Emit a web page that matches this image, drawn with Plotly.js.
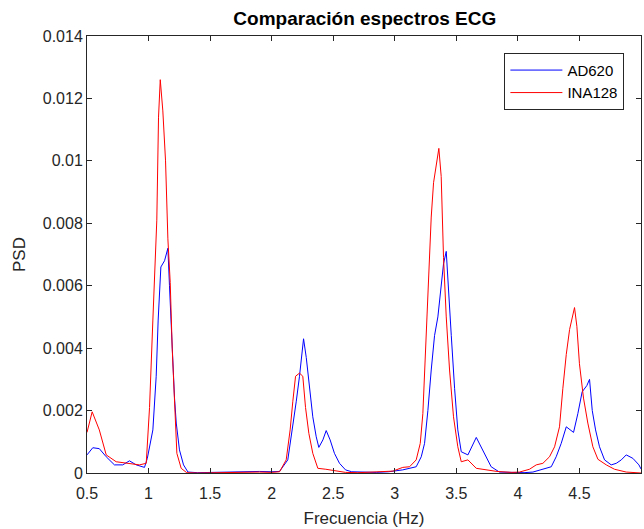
<!DOCTYPE html>
<html>
<head>
<meta charset="utf-8">
<script src="https://cdn.plot.ly/plotly-3.0.1.min.js"></script>
<style>html,body{margin:0;padding:0;background:#fff;}#chart{width:644px;height:529px;}</style>
</head>
<body>
<div id="chart"></div>
<script>
// AD620 (blue)
const adFreq = [0.5, 0.547, 0.6, 0.656, 0.723, 0.79, 0.845, 0.9, 0.967, 0.99, 1.035, 1.062, 1.078, 1.1, 1.13, 1.157, 1.17, 1.19, 1.211, 1.225, 1.251, 1.284, 1.32, 1.4, 1.5, 1.6, 1.7, 1.8, 1.9, 2.0, 2.064, 2.131, 2.172, 2.2, 2.226, 2.243, 2.259, 2.281, 2.307, 2.334, 2.362, 2.383, 2.416, 2.443, 2.475, 2.51, 2.551, 2.6, 2.65, 2.75, 2.85, 2.95, 2.984, 3.065, 3.174, 3.215, 3.242, 3.269, 3.296, 3.323, 3.35, 3.377, 3.396, 3.418, 3.437, 3.459, 3.486, 3.512, 3.54, 3.594, 3.662, 3.715, 3.783, 3.85, 3.95, 4.05, 4.122, 4.203, 4.271, 4.311, 4.352, 4.393, 4.425, 4.452, 4.487, 4.522, 4.56, 4.582, 4.604, 4.631, 4.663, 4.704, 4.758, 4.799, 4.84, 4.88, 4.934, 4.983, 5.0];
const adPsd = [0.00058, 0.00081, 0.00078, 0.00052, 0.00026, 0.00026, 0.00039, 0.00026, 0.00018, 0.00047, 0.00138, 0.0031, 0.0049, 0.0066, 0.0068, 0.0072, 0.0060, 0.0040, 0.0024, 0.0016, 0.00074, 0.00026, 0.00003, 0.00001, 0.00002, 0.00003, 0.00002, 0.00003, 0.00005, 0.00004, 0.00005, 0.00042, 0.00148, 0.0023, 0.0031, 0.0038, 0.0043, 0.0037, 0.0028, 0.0018, 0.00116, 0.00082, 0.00106, 0.00136, 0.00106, 0.00063, 0.00031, 0.0001, 0.00004, 0.00002, 0.00002, 0.00004, 0.00006, 0.0001, 0.0002, 0.00052, 0.00095, 0.002, 0.0033, 0.0044, 0.0050, 0.0060, 0.0067, 0.0071, 0.0060, 0.0044, 0.0027, 0.00138, 0.00068, 0.00058, 0.00114, 0.00074, 0.0002, 0.00003, 0.00001, 0.00001, 0.00003, 0.00012, 0.0002, 0.00052, 0.00095, 0.00148, 0.00138, 0.0013, 0.0019, 0.0026, 0.0028, 0.0030, 0.0020, 0.00138, 0.00084, 0.00042, 0.00026, 0.00031, 0.00042, 0.00058, 0.00047, 0.00026, 0.00013];

// INA128 (red)
const inaFreq = [0.5, 0.542, 0.6, 0.656, 0.737, 0.845, 0.926, 0.981, 1.008, 1.035, 1.067, 1.081, 1.095, 1.116, 1.138, 1.157, 1.176, 1.192, 1.211, 1.23, 1.265, 1.31, 1.4, 1.5, 1.6, 1.7, 1.8, 1.9, 2.0, 2.064, 2.118, 2.15, 2.172, 2.194, 2.226, 2.253, 2.275, 2.302, 2.334, 2.375, 2.44, 2.51, 2.6, 2.7, 2.8, 2.9, 2.984, 3.065, 3.12, 3.174, 3.207, 3.228, 3.244, 3.26, 3.277, 3.296, 3.315, 3.337, 3.358, 3.377, 3.396, 3.418, 3.445, 3.477, 3.512, 3.54, 3.594, 3.662, 3.743, 3.83, 3.95, 4.013, 4.094, 4.149, 4.203, 4.257, 4.298, 4.338, 4.365, 4.393, 4.42, 4.441, 4.46, 4.479, 4.5, 4.533, 4.568, 4.609, 4.65, 4.718, 4.785, 4.88, 5.0];
const inaPsd = [0.0013, 0.00196, 0.00138, 0.00058, 0.00036, 0.00031, 0.00026, 0.00031, 0.0021, 0.0049, 0.0081, 0.0114, 0.0126, 0.0116, 0.0100, 0.0075, 0.0061, 0.0040, 0.0021, 0.00063, 0.00015, 0.00001, 0.0, 0.00001, 0.00002, 0.00001, 0.00002, 0.00003, 0.00002, 0.00004, 0.00042, 0.00138, 0.0023, 0.0031, 0.0032, 0.0031, 0.0021, 0.00127, 0.00063, 0.00015, 0.00012, 0.00008, 0.00002, 0.00001, 0.00002, 0.00005, 0.00006, 0.00018, 0.0002, 0.00042, 0.00095, 0.0019, 0.0035, 0.0050, 0.0067, 0.0082, 0.0093, 0.0099, 0.0104, 0.0095, 0.0069, 0.0050, 0.0033, 0.0018, 0.00084, 0.00036, 0.00042, 0.00015, 0.0001, 0.00005, 0.00002, 0.00003, 0.00012, 0.00026, 0.00031, 0.00052, 0.00084, 0.00148, 0.0027, 0.0038, 0.0046, 0.0050, 0.0053, 0.0047, 0.0035, 0.0024, 0.0016, 0.00084, 0.00044, 0.00026, 0.00012, 0.00003, 0.0];

const seriesNames = ['AD620', 'INA128'];
const xTickVals = [0.5, 1, 1.5, 2, 2.5, 3, 3.5, 4, 4.5, 5];
const xTickText = ['0.5', '1', '1.5', '2', '2.5', '3', '3.5', '4', '4.5', '5'];
const yTickVals = [0, 0.002, 0.004, 0.006, 0.008, 0.01, 0.012, 0.014];
const yTickText = ['0', '0.002', '0.004', '0.006', '0.008', '0.01', '0.012', '0.014'];

const FONT = 'Liberation Sans, Arial, sans-serif';
const INK = '#262626';

const traces = [
  {x: adFreq, y: adPsd, name: seriesNames[0], type: 'scatter', mode: 'lines',
   line: {color: '#0000ff', width: 1}},
  {x: inaFreq, y: inaPsd, name: seriesNames[1], type: 'scatter', mode: 'lines',
   line: {color: '#ff0000', width: 1}}
];

const axisCommon = {
  showline: true, linecolor: INK, linewidth: 1, mirror: 'ticks',
  ticks: 'inside', ticklen: 5, tickcolor: INK, tickwidth: 1,
  showgrid: false, zeroline: false,
  tickfont: {family: FONT, size: 16, color: INK}
};

const layout = {
  width: 644, height: 529,
  margin: {l: 87, r: 3, t: 36, b: 56, pad: 0},
  paper_bgcolor: '#ffffff', plot_bgcolor: '#ffffff',
  title: {text: '<b>Comparación espectros ECG</b>', font: {family: FONT, size: 19, color: '#000000'},
          x: 0.5665, xanchor: 'center', y: 0.966, yanchor: 'middle'},
  xaxis: Object.assign({}, axisCommon, {
    range: [0.5, 5], tickmode: 'array', tickvals: xTickVals, ticktext: xTickText,
    ticklabelstandoff: 6,
    title: {text: 'Frecuencia (Hz)', font: {family: FONT, size: 17, color: INK}, standoff: 10}
  }),
  yaxis: Object.assign({}, axisCommon, {
    range: [0, 0.014], tickmode: 'array', tickvals: yTickVals, ticktext: yTickText,
    title: {text: 'PSD', font: {family: FONT, size: 17, color: INK}, standoff: 12}
  }),
  showlegend: true,
  legend: {
    x: 0.97, xanchor: 'right', y: 0.9615, yanchor: 'top',
    bgcolor: '#ffffff', bordercolor: INK, borderwidth: 1,
    font: {family: FONT, size: 15, color: '#000000'},
    itemwidth: 52, tracegroupgap: 0
  }
};

Plotly.newPlot('chart', traces, layout, {displayModeBar: false, staticPlot: true});
</script>
</body>
</html>
